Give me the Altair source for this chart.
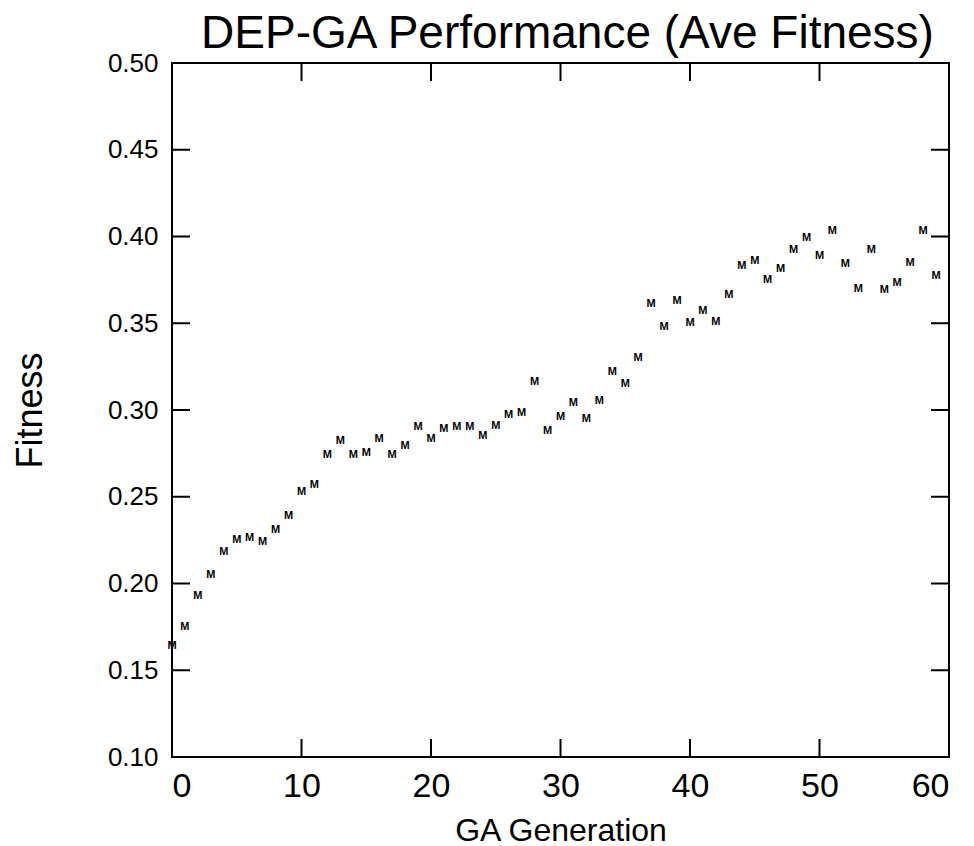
import altair as alt
import pandas as pd

# Average fitness of the GA population per generation
generation = list(range(60))
fitness = [
    0.164, 0.175, 0.193, 0.205, 0.218, 0.225, 0.226, 0.224, 0.231, 0.239,
    0.253, 0.257, 0.274, 0.282, 0.274, 0.275, 0.283, 0.274, 0.279, 0.290,
    0.283, 0.289, 0.290, 0.290, 0.285, 0.291, 0.297, 0.298, 0.316, 0.288,
    0.296, 0.304, 0.295, 0.305, 0.322, 0.315, 0.330, 0.361, 0.348, 0.363,
    0.350, 0.357, 0.351, 0.366, 0.383, 0.386, 0.375, 0.381, 0.392, 0.399,
    0.389, 0.403, 0.384, 0.370, 0.392, 0.369, 0.373, 0.385, 0.403, 0.377,
]

x_ticks = [0, 10, 20, 30, 40, 50, 60]
y_ticks = [0.10, 0.15, 0.20, 0.25, 0.30, 0.35, 0.40, 0.45, 0.50]
x_inner_ticks = [10, 20, 30, 40, 50]
y_inner_ticks = [0.15, 0.20, 0.25, 0.30, 0.35, 0.40, 0.45]

W, H = 777, 694
TICK = 18
FONT = "Liberation Sans"

df = pd.DataFrame({"gen": generation, "fit": fitness})
xt = pd.DataFrame({"v": x_inner_ticks})
yt = pd.DataFrame({"v": y_inner_ticks})

x_scale = alt.Scale(domain=[0, 60], nice=False)
y_scale = alt.Scale(domain=[0.1, 0.5], nice=False)

x_axis = alt.Axis(
    values=x_ticks, format="d", title="GA Generation", grid=False, domain=False,
    ticks=False, labelFontSize=34, labelPadding=12, labelColor="black",
    titleFontSize=32, titleFontWeight="normal", titlePadding=12, titleColor="black",
    labelFont=FONT, titleFont=FONT,
)
y_axis = alt.Axis(
    values=y_ticks, format=".2f", title="Fitness", grid=False, domain=False,
    ticks=False, labelFontSize=26, labelPadding=14, labelColor="black",
    titleFontSize=36, titleFontWeight="normal", titlePadding=58, titleColor="black",
    labelFont=FONT, titleFont=FONT,
)

points = alt.Chart(df).mark_text(
    text="M", font=FONT, fontSize=11, fontWeight="bold", color="black",
    baseline="middle", align="center",
).encode(
    x=alt.X("gen:Q", scale=x_scale, axis=x_axis),
    y=alt.Y("fit:Q", scale=y_scale, axis=y_axis),
)

rule_style = dict(color="black", strokeWidth=2)

bottom_ticks = alt.Chart(xt).mark_rule(**rule_style).encode(
    x=alt.X("v:Q", scale=x_scale), y=alt.value(H), y2=alt.value(H - TICK)
)
top_ticks = alt.Chart(xt).mark_rule(**rule_style).encode(
    x=alt.X("v:Q", scale=x_scale), y=alt.value(0), y2=alt.value(TICK)
)
left_ticks = alt.Chart(yt).mark_rule(**rule_style).encode(
    y=alt.Y("v:Q", scale=y_scale), x=alt.value(0), x2=alt.value(TICK)
)
right_ticks = alt.Chart(yt).mark_rule(**rule_style).encode(
    y=alt.Y("v:Q", scale=y_scale), x=alt.value(W), x2=alt.value(W - TICK)
)

chart = alt.layer(
    points, bottom_ticks, top_ticks, left_ticks, right_ticks
).properties(
    width=W,
    height=H,
    title=alt.TitleParams(
        "DEP-GA Performance (Ave Fitness)", font=FONT, fontSize=46,
        fontWeight="normal", color="black", offset=0, dy=8, dx=7,
    ),
    autosize=alt.AutoSizeParams(type="none"),
    padding={"left": 172, "top": 63, "right": 25, "bottom": 89},
    background="white",
).configure_view(
    stroke="black", strokeWidth=2
)

chart.save("out.html", embed_options={"renderer": "svg", "actions": False})
